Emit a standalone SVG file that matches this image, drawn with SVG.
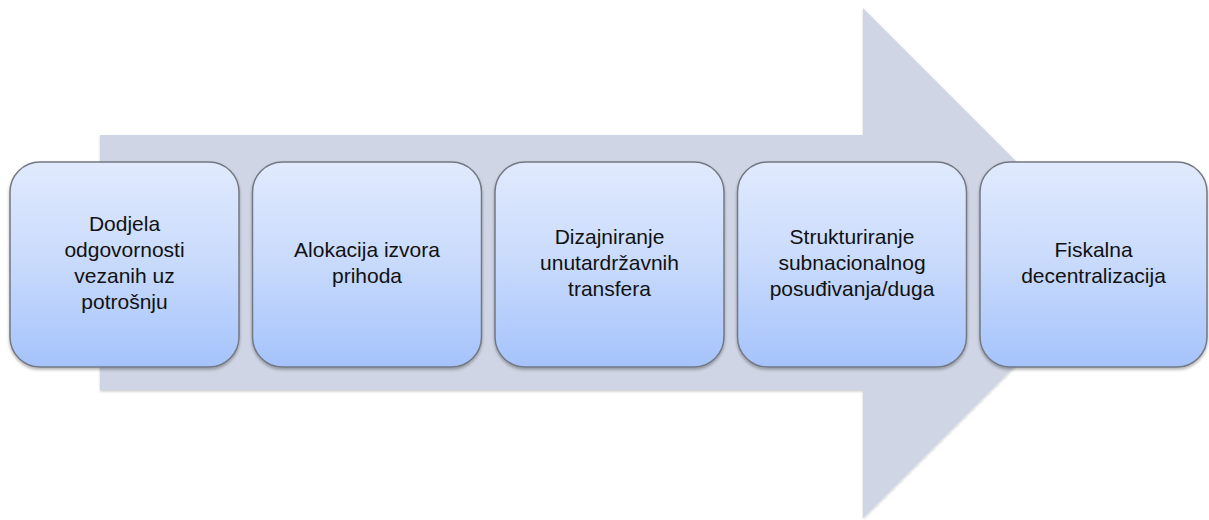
<svg xmlns="http://www.w3.org/2000/svg" width="1209" height="520" viewBox="0 0 1209 520">
<defs>
<linearGradient id="g" x1="0" y1="0" x2="0" y2="1">
<stop offset="0" stop-color="#e1eafd"/>
<stop offset="0.5" stop-color="#c8dafc"/>
<stop offset="1" stop-color="#a5c3fb"/>
</linearGradient>
<filter id="sh" x="-10%" y="-10%" width="120%" height="120%">
<feDropShadow dx="0" dy="2" stdDeviation="1.5" flood-color="#000" flood-opacity="0.3"/>
</filter>
<filter id="sha" x="-5%" y="-5%" width="110%" height="110%">
<feDropShadow dx="0" dy="1.5" stdDeviation="1.2" flood-color="#000" flood-opacity="0.2"/>
</filter>
</defs>
<style>
.box{fill:url(#g);stroke:#737882;stroke-width:1.5;filter:url(#sh)}
.t{font-family:"Liberation Sans",Arial,sans-serif;font-size:21px;fill:#111;text-anchor:middle}
</style>
<rect width="1209" height="520" fill="#fff"/>
<g id="arrow">
<path d="M100 135 H863 V8 L1118 263 L863 518 V390 H100 Z" fill="#cfd5e4" filter="url(#sha)"/>
</g>
<g id="connectors"/>
<g id="n1">
<rect class="box" x="10" y="162" width="229" height="205" rx="30"/>
<text class="t" x="124.5" y="231">Dodjela</text>
<text class="t" x="124.5" y="257">odgovornosti</text>
<text class="t" x="124.5" y="283">vezanih uz</text>
<text class="t" x="124.5" y="309">potrošnju</text>
</g>
<g id="n2">
<rect class="box" x="252.5" y="162" width="229" height="205" rx="30"/>
<text class="t" x="367" y="257">Alokacija izvora</text>
<text class="t" x="367" y="283">prihoda</text>
</g>
<g id="n3">
<rect class="box" x="495" y="162" width="229" height="205" rx="30"/>
<text class="t" x="609.5" y="244">Dizajniranje</text>
<text class="t" x="609.5" y="270">unutardržavnih</text>
<text class="t" x="609.5" y="296">transfera</text>
</g>
<g id="n4">
<rect class="box" x="737.5" y="162" width="229" height="205" rx="30"/>
<text class="t" x="852" y="244">Strukturiranje</text>
<text class="t" x="852" y="270">subnacionalnog</text>
<text class="t" x="852" y="296">posuđivanja/duga</text>
</g>
<g id="n5">
<rect class="box" x="980" y="162" width="227" height="205" rx="30"/>
<text class="t" x="1093.5" y="257">Fiskalna</text>
<text class="t" x="1093.5" y="283">decentralizacija</text>
</g>
</svg>
